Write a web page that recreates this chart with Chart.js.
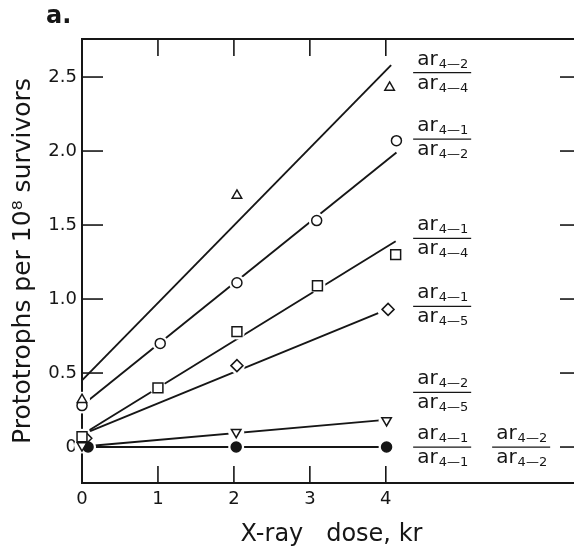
<!DOCTYPE html>
<html>
<head>
<meta charset="utf-8">
<script src="https://cdn.jsdelivr.net/npm/chart.js@4.4.1/dist/chart.umd.min.js"></script>
<style>
  html, body { margin: 0; padding: 0; background: #fff; overflow: hidden; }
</style>
</head>
<body>
<canvas id="chart" width="600" height="549"></canvas>
<script>
// dose (kr) and prototrophs per 10^8 survivors
const triDose = [0, 2.04, 4.05];
const triVal = [0.32, 1.70, 2.43];
const circDose = [0, 1.03, 2.04, 3.09, 4.14];
const circVal = [0.28, 0.70, 1.11, 1.53, 2.07];
const sqDose = [0, 1.0, 2.04, 3.1, 4.13];
const sqVal = [0.07, 0.40, 0.78, 1.09, 1.30];
const diaDose = [0.05, 2.04, 4.03];
const diaVal = [0.06, 0.55, 0.93];
const invDose = [0, 2.03, 4.01];
const invVal = [0.01, 0.10, 0.18];
const dotDose = [0.08, 2.03, 4.01];
const dotVal = [0, 0, 0];

// fitted lines: [start dose, end dose], [start value, end value]
const triFitDose = [0, 4.07];
const triFitVal = [0.45, 2.58];
const circFitDose = [0.07, 4.14];
const circFitVal = [0.31, 1.99];
const sqFitDose = [0.1, 4.13];
const sqFitVal = [0.115, 1.39];
const diaFitDose = [0.1, 3.9];
const diaFitVal = [0.105, 0.905];
const invFitDose = [0.17, 3.92];
const invFitVal = [0.01, 0.18];
const dotFitDose = [0.17, 3.95];
const dotFitVal = [0, 0];

const xTicks = [0, 1, 2, 3, 4];
const yTicks = [0, 0.5, 1.0, 1.5, 2.0, 2.5];

// strain ratio labels (numerator / denominator subscripts)
const fracNum = ["2", "1", "1", "1", "2", "1", "2"];
const fracDen = ["4", "2", "4", "5", "5", "1", "2"];
const fracAtX = [4.36, 4.36, 4.36, 4.36, 4.36, 4.36, 5.4];
const fracAtY = [2.53, 2.08, 1.41, 0.95, 0.37, 0, 0];

const FONT = '"DejaVu Sans"';
const INK = "#161616";

const pts = (xs, ys) => xs.map((x, i) => ({ x: x, y: ys[i] }));

const series = [
  { dose: sqDose, val: sqVal, fx: sqFitDose, fy: sqFitVal, style: "rect", r: 7, fill: "#fff" },
  { dose: triDose, val: triVal, fx: triFitDose, fy: triFitVal, style: "triangle", r: 5.5, fill: "#fff" },
  { dose: circDose, val: circVal, fx: circFitDose, fy: circFitVal, style: "circle", r: 5, fill: "#fff" },
  { dose: invDose, val: invVal, fx: invFitDose, fy: invFitVal, style: "triangle", r: 5.5, fill: "#fff", rot: 180 },
  { dose: dotDose, val: dotVal, fx: dotFitDose, fy: dotFitVal, style: "circle", r: 5, fill: INK },
  { dose: diaDose, val: diaVal, fx: diaFitDose, fy: diaFitVal, style: "rectRot", r: 6, fill: "#fff" }
];

const datasets = [];
series.forEach(s => {
  datasets.push({
    data: pts(s.dose, s.val),
    pointStyle: s.style,
    pointRadius: s.r,
    pointRotation: s.rot || 0,
    pointBackgroundColor: s.fill,
    pointBorderColor: INK,
    pointBorderWidth: 1.5,
    showLine: false,
    clip: false,
    order: 0
  });
  // white halo so the fitted line breaks around each marker
  datasets.push({
    data: pts(s.dose, s.val),
    pointStyle: "circle",
    pointRadius: 8,
    pointBackgroundColor: "#fff",
    pointBorderWidth: 0,
    showLine: false,
    clip: false,
    order: 1
  });
  datasets.push({
    data: pts(s.fx, s.fy),
    showLine: true,
    borderColor: INK,
    borderWidth: 1.9,
    pointRadius: 0,
    clip: false,
    order: 2
  });
});

const line = (ctx, x1, y1, x2, y2) => {
  ctx.beginPath();
  ctx.moveTo(x1, y1);
  ctx.lineTo(x2, y2);
  ctx.stroke();
};

const drawPart = (ctx, x, base, sub) => {
  ctx.textAlign = "left";
  ctx.textBaseline = "alphabetic";
  ctx.font = "20px " + FONT;
  ctx.fillText("ar", x, base);
  const w = ctx.measureText("ar").width;
  ctx.font = "13px " + FONT;
  const s = "4\u2014" + sub;
  ctx.fillText(s, x + w + 1, base + 3);
  return w + 1 + ctx.measureText(s).width;
};

const framePlugin = {
  id: "frame",
  beforeDatasetsDraw(chart) {
    const { ctx, chartArea: a, scales } = chart;
    ctx.save();
    ctx.strokeStyle = INK;
    ctx.lineWidth = 2;
    ctx.strokeRect(a.left, a.top, a.right - a.left, a.bottom - a.top);
    ctx.lineWidth = 1.6;
    scales.y.ticks.forEach(t => {
      const py = scales.y.getPixelForValue(t.value);
      line(ctx, a.left, py, a.left + 21, py);
      line(ctx, a.right - 21, py, a.right, py);
    });
    scales.x.ticks.forEach(t => {
      if (t.value === 0) return;
      const px = scales.x.getPixelForValue(t.value);
      line(ctx, px, a.top, px, a.top + 17);
      line(ctx, px, a.bottom - 17, px, a.bottom);
    });
    ctx.restore();
  },
  afterDraw(chart) {
    const { ctx, scales } = chart;
    ctx.save();
    ctx.fillStyle = INK;
    ctx.strokeStyle = INK;

    // panel letter
    ctx.font = "bold 24px " + FONT;
    ctx.textAlign = "left";
    ctx.textBaseline = "alphabetic";
    ctx.fillText("a.", 46, 23);

    // ratio labels
    fracNum.forEach((num, i) => {
      const x0 = scales.x.getPixelForValue(fracAtX[i]);
      const y0 = scales.y.getPixelForValue(fracAtY[i]);
      const w1 = drawPart(ctx, x0 + 4, y0 - 8, num);
      const w2 = drawPart(ctx, x0 + 4, y0 + 16, fracDen[i]);
      ctx.lineWidth = 1.3;
      line(ctx, x0, y0, x0 + Math.max(w1, w2) + 7, y0);
    });
    ctx.restore();
  }
};

new Chart(document.getElementById("chart"), {
  type: "scatter",
  data: { datasets: datasets },
  options: {
    responsive: false,
    animation: false,
    layout: { padding: { top: 39, right: 19, left: 0, bottom: 0 } },
    plugins: { legend: { display: false }, tooltip: { enabled: false } },
    scales: {
      x: {
        type: "linear",
        min: 0,
        max: 6.57,
        afterFit: scale => { scale.height = 66; },
        afterBuildTicks: scale => { scale.ticks = xTicks.map(v => ({ value: v })); },
        grid: { display: false, drawTicks: false },
        border: { display: false },
        title: {
          display: true,
          text: "X-ray   dose, kr",
          color: INK,
          font: { family: FONT, size: 24 },
          padding: { top: 2, bottom: 0 }
        },
        ticks: {
          color: INK,
          padding: 6,
          maxRotation: 0,
          font: { family: FONT, size: 18 },
          callback: v => String(v)
        }
      },
      y: {
        type: "linear",
        min: -0.243,
        max: 2.757,
        afterFit: scale => { scale.width = 82; },
        afterBuildTicks: scale => { scale.ticks = yTicks.map(v => ({ value: v })); },
        grid: { display: false, drawTicks: false },
        border: { display: false },
        title: {
          display: true,
          text: "Prototrophs per 10\u2078 survivors",
          color: INK,
          font: { family: FONT, size: 25 },
          padding: { top: 8, bottom: 0 }
        },
        ticks: {
          color: INK,
          padding: 5,
          font: { family: FONT, size: 18 },
          callback: v => (v === 0 ? "0" : v.toFixed(1))
        }
      }
    }
  },
  plugins: [framePlugin]
});
</script>
</body>
</html>
